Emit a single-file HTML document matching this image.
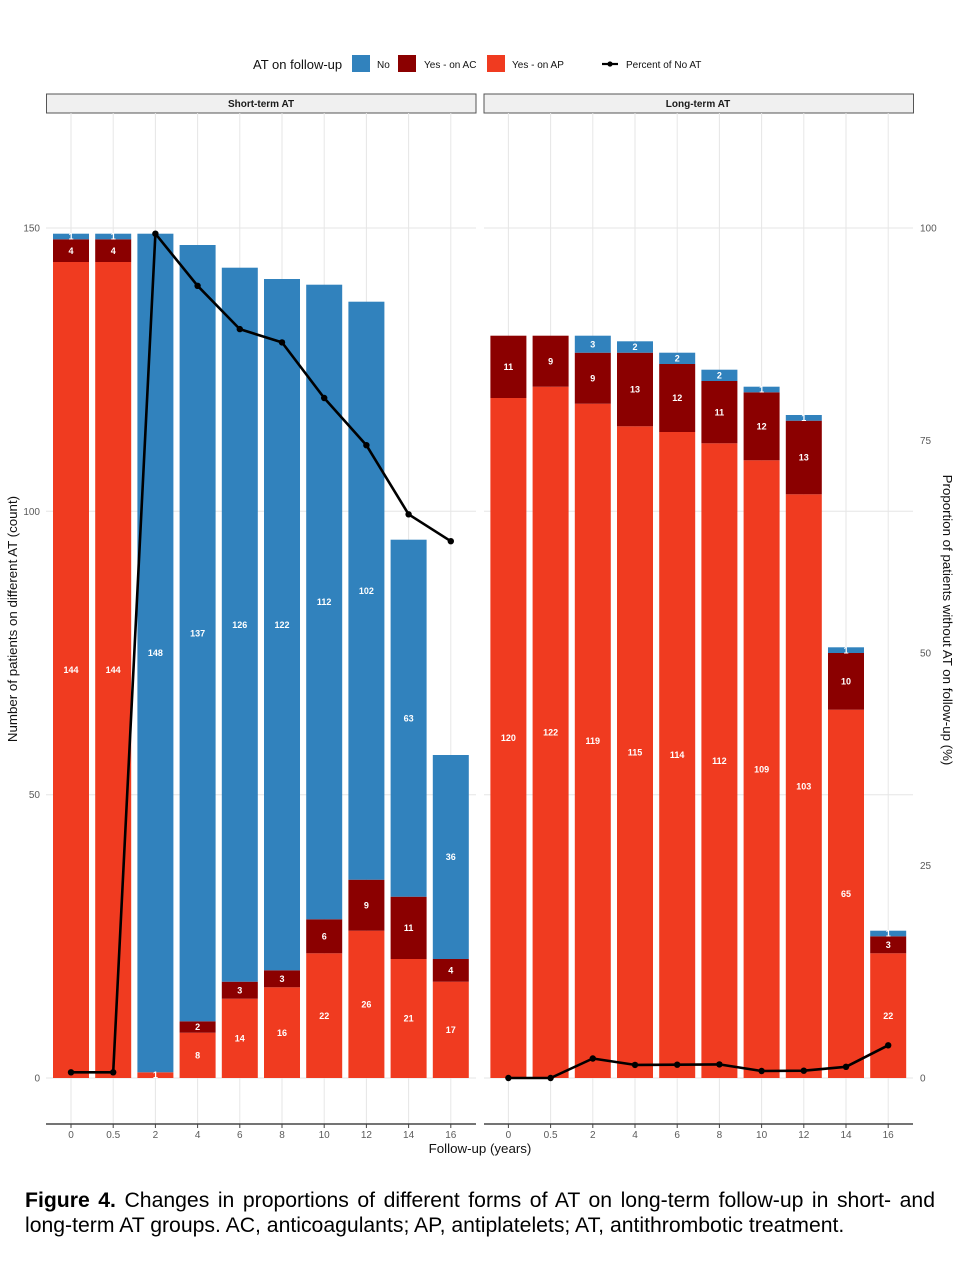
<!DOCTYPE html>
<html><head><meta charset="utf-8">
<style>
html,body{margin:0;padding:0;background:#fff;}
body{width:960px;height:1280px;position:relative;overflow:hidden;font-family:"Liberation Sans",Arial,sans-serif;}
svg{position:absolute;left:0;top:0;}
.cap{position:absolute;left:25px;width:910px;font-size:21.2px;color:#000;line-height:25px;white-space:nowrap;}
.l1{top:1188px;text-align:justify;text-align-last:justify;}
.l2{top:1213px;}
.tk{font-size:10px;fill:#5a5a5a;}
.bl{font-size:9px;font-weight:bold;fill:#fff;text-anchor:middle;}
</style></head><body>
<svg width="960" height="1280" viewBox="0 0 960 1280" xmlns="http://www.w3.org/2000/svg" font-family="Liberation Sans, Arial, sans-serif">
<!-- Legend -->
<text x="253" y="69" font-size="13" fill="#111">AT on follow-up</text>
<rect x="352" y="55" width="18" height="17" fill="#3182bd"/>
<text x="377" y="68" font-size="10" fill="#111">No</text>
<rect x="398" y="55" width="18" height="17" fill="#8b0000"/>
<text x="424" y="68" font-size="10" fill="#111">Yes - on AC</text>
<rect x="487" y="55" width="18" height="17" fill="#f03b20"/>
<text x="512" y="68" font-size="10" fill="#111">Yes - on AP</text>
<line x1="602" y1="64" x2="618" y2="64" stroke="#000" stroke-width="2.2"/>
<circle cx="610" cy="64" r="2.6" fill="#000"/>
<text x="626" y="68" font-size="10" fill="#111">Percent of No AT</text>

<!-- Strips -->
<rect x="46.5" y="94" width="429.5" height="19" fill="#f0f0f0" stroke="#555" stroke-width="1"/>
<text x="261" y="107" font-size="10" font-weight="bold" text-anchor="middle" fill="#1a1a1a">Short-term AT</text>
<rect x="484" y="94" width="429.5" height="19" fill="#f0f0f0" stroke="#555" stroke-width="1"/>
<text x="698" y="107" font-size="10" font-weight="bold" text-anchor="middle" fill="#1a1a1a">Long-term AT</text>

<!-- Gridlines -->
<g stroke="#e6e6e6" stroke-width="1">
<line x1="46" y1="228" x2="476" y2="228"/><line x1="46" y1="511.3" x2="476" y2="511.3"/><line x1="46" y1="794.7" x2="476" y2="794.7"/><line x1="46" y1="1078" x2="476" y2="1078"/>
<line x1="484" y1="228" x2="913" y2="228"/><line x1="484" y1="511.3" x2="913" y2="511.3"/><line x1="484" y1="794.7" x2="913" y2="794.7"/><line x1="484" y1="1078" x2="913" y2="1078"/>
<line x1="71" y1="113" x2="71" y2="1124"/><line x1="113.2" y1="113" x2="113.2" y2="1124"/><line x1="155.4" y1="113" x2="155.4" y2="1124"/><line x1="197.6" y1="113" x2="197.6" y2="1124"/><line x1="239.8" y1="113" x2="239.8" y2="1124"/><line x1="282" y1="113" x2="282" y2="1124"/><line x1="324.2" y1="113" x2="324.2" y2="1124"/><line x1="366.4" y1="113" x2="366.4" y2="1124"/><line x1="408.6" y1="113" x2="408.6" y2="1124"/><line x1="450.8" y1="113" x2="450.8" y2="1124"/>
<line x1="508.4" y1="113" x2="508.4" y2="1124"/><line x1="550.6" y1="113" x2="550.6" y2="1124"/><line x1="592.8" y1="113" x2="592.8" y2="1124"/><line x1="635" y1="113" x2="635" y2="1124"/><line x1="677.2" y1="113" x2="677.2" y2="1124"/><line x1="719.4" y1="113" x2="719.4" y2="1124"/><line x1="761.6" y1="113" x2="761.6" y2="1124"/><line x1="803.8" y1="113" x2="803.8" y2="1124"/><line x1="846" y1="113" x2="846" y2="1124"/><line x1="888.2" y1="113" x2="888.2" y2="1124"/>
</g>

<!-- Left panel bars -->
<g>
<rect x="53" y="262" width="36" height="816" fill="#f03b20"/>
<rect x="53" y="239.3" width="36" height="22.7" fill="#8b0000"/>
<rect x="53" y="233.7" width="36" height="5.6" fill="#3182bd"/>
<rect x="95.2" y="262" width="36" height="816" fill="#f03b20"/>
<rect x="95.2" y="239.3" width="36" height="22.7" fill="#8b0000"/>
<rect x="95.2" y="233.7" width="36" height="5.6" fill="#3182bd"/>
<rect x="137.4" y="1072.3" width="36" height="5.7" fill="#f03b20"/>
<rect x="137.4" y="233.7" width="36" height="838.6" fill="#3182bd"/>
<rect x="179.6" y="1032.7" width="36" height="45.3" fill="#f03b20"/>
<rect x="179.6" y="1021.3" width="36" height="11.4" fill="#8b0000"/>
<rect x="179.6" y="245" width="36" height="776.3" fill="#3182bd"/>
<rect x="221.8" y="998.7" width="36" height="79.3" fill="#f03b20"/>
<rect x="221.8" y="981.7" width="36" height="17" fill="#8b0000"/>
<rect x="221.8" y="267.7" width="36" height="714" fill="#3182bd"/>
<rect x="264" y="987.3" width="36" height="90.7" fill="#f03b20"/>
<rect x="264" y="970.3" width="36" height="17" fill="#8b0000"/>
<rect x="264" y="279" width="36" height="691.3" fill="#3182bd"/>
<rect x="306.2" y="953.3" width="36" height="124.7" fill="#f03b20"/>
<rect x="306.2" y="919.3" width="36" height="34" fill="#8b0000"/>
<rect x="306.2" y="284.7" width="36" height="634.6" fill="#3182bd"/>
<rect x="348.4" y="930.7" width="36" height="147.3" fill="#f03b20"/>
<rect x="348.4" y="879.7" width="36" height="51" fill="#8b0000"/>
<rect x="348.4" y="301.7" width="36" height="578" fill="#3182bd"/>
<rect x="390.6" y="959" width="36" height="119" fill="#f03b20"/>
<rect x="390.6" y="896.7" width="36" height="62.3" fill="#8b0000"/>
<rect x="390.6" y="539.7" width="36" height="357" fill="#3182bd"/>
<rect x="432.8" y="981.7" width="36" height="96.3" fill="#f03b20"/>
<rect x="432.8" y="959" width="36" height="22.7" fill="#8b0000"/>
<rect x="432.8" y="755" width="36" height="204" fill="#3182bd"/>
</g>

<!-- Right panel bars -->
<g>
<rect x="490.4" y="398" width="36" height="680" fill="#f03b20"/>
<rect x="490.4" y="335.7" width="36" height="62.3" fill="#8b0000"/>
<rect x="532.6" y="386.7" width="36" height="691.3" fill="#f03b20"/>
<rect x="532.6" y="335.7" width="36" height="51" fill="#8b0000"/>
<rect x="574.8" y="403.7" width="36" height="674.3" fill="#f03b20"/>
<rect x="574.8" y="352.7" width="36" height="51" fill="#8b0000"/>
<rect x="574.8" y="335.7" width="36" height="17" fill="#3182bd"/>
<rect x="617" y="426.3" width="36" height="651.7" fill="#f03b20"/>
<rect x="617" y="352.7" width="36" height="73.6" fill="#8b0000"/>
<rect x="617" y="341.3" width="36" height="11.4" fill="#3182bd"/>
<rect x="659.2" y="432" width="36" height="646" fill="#f03b20"/>
<rect x="659.2" y="364" width="36" height="68" fill="#8b0000"/>
<rect x="659.2" y="352.7" width="36" height="11.3" fill="#3182bd"/>
<rect x="701.4" y="443.3" width="36" height="634.7" fill="#f03b20"/>
<rect x="701.4" y="381" width="36" height="62.3" fill="#8b0000"/>
<rect x="701.4" y="369.7" width="36" height="11.3" fill="#3182bd"/>
<rect x="743.6" y="460.3" width="36" height="617.7" fill="#f03b20"/>
<rect x="743.6" y="392.3" width="36" height="68" fill="#8b0000"/>
<rect x="743.6" y="386.7" width="36" height="5.6" fill="#3182bd"/>
<rect x="785.8" y="494.3" width="36" height="583.7" fill="#f03b20"/>
<rect x="785.8" y="420.7" width="36" height="73.6" fill="#8b0000"/>
<rect x="785.8" y="415" width="36" height="5.7" fill="#3182bd"/>
<rect x="828" y="709.7" width="36" height="368.3" fill="#f03b20"/>
<rect x="828" y="653" width="36" height="56.7" fill="#8b0000"/>
<rect x="828" y="647.3" width="36" height="5.7" fill="#3182bd"/>
<rect x="870.2" y="953.3" width="36" height="124.7" fill="#f03b20"/>
<rect x="870.2" y="936.3" width="36" height="17" fill="#8b0000"/>
<rect x="870.2" y="930.7" width="36" height="5.6" fill="#3182bd"/>
</g>

<!-- Bar labels left -->
<g class="bl" font-family="Liberation Sans, Arial, sans-serif">
<text x="71" y="673">144</text><text x="71" y="254">4</text><text x="71" y="239.5">1</text>
<text x="113.2" y="673">144</text><text x="113.2" y="254">4</text><text x="113.2" y="239.5">1</text>
<text x="155.4" y="1078">1</text><text x="155.4" y="656">148</text>
<text x="197.6" y="1058.5">8</text><text x="197.6" y="1030.2">2</text><text x="197.6" y="636.4">137</text>
<text x="239.8" y="1041.5">14</text><text x="239.8" y="993.4">3</text><text x="239.8" y="628">126</text>
<text x="282" y="1036">16</text><text x="282" y="982">3</text><text x="282" y="628">122</text>
<text x="324.2" y="1019">22</text><text x="324.2" y="939.5">6</text><text x="324.2" y="605">112</text>
<text x="366.4" y="1007.5">26</text><text x="366.4" y="908.4">9</text><text x="366.4" y="594">102</text>
<text x="408.6" y="1021.7">21</text><text x="408.6" y="931">11</text><text x="408.6" y="721.4">63</text>
<text x="450.8" y="1033">17</text><text x="450.8" y="973.5">4</text><text x="450.8" y="860.2">36</text>
</g>
<!-- Bar labels right -->
<g class="bl" font-family="Liberation Sans, Arial, sans-serif">
<text x="508.4" y="741.2">120</text><text x="508.4" y="370">11</text>
<text x="550.6" y="735.5">122</text><text x="550.6" y="364.4">9</text>
<text x="592.8" y="744">119</text><text x="592.8" y="381.4">9</text><text x="592.8" y="347.4">3</text>
<text x="635" y="755.4">115</text><text x="635" y="392.7">13</text><text x="635" y="350.2">2</text>
<text x="677.2" y="758.2">114</text><text x="677.2" y="401.2">12</text><text x="677.2" y="361.5">2</text>
<text x="719.4" y="763.9">112</text><text x="719.4" y="415.4">11</text><text x="719.4" y="378.5">2</text>
<text x="761.6" y="772.4">109</text><text x="761.6" y="429.5">12</text><text x="761.6" y="392.7">1</text>
<text x="803.8" y="789.4">103</text><text x="803.8" y="460.7">13</text><text x="803.8" y="421">1</text>
<text x="846" y="897">65</text><text x="846" y="684.5">10</text><text x="846" y="653.4">1</text>
<text x="888.2" y="1018.9">22</text><text x="888.2" y="948">3</text><text x="888.2" y="936.7">1</text>
</g>

<!-- Lines -->
<polyline points="71,1072.3 113.2,1072.3 155.4,233.7 197.6,285.8 239.8,329.1 282,342.4 324.2,398 366.4,445.2 408.6,514.3 450.8,541.2" fill="none" stroke="#000" stroke-width="2.6" stroke-linejoin="round"/>
<g fill="#000">
<circle cx="71" cy="1072.3" r="3.2"/><circle cx="113.2" cy="1072.3" r="3.2"/><circle cx="155.4" cy="233.7" r="3.2"/><circle cx="197.6" cy="285.8" r="3.2"/><circle cx="239.8" cy="329.1" r="3.2"/><circle cx="282" cy="342.4" r="3.2"/><circle cx="324.2" cy="398" r="3.2"/><circle cx="366.4" cy="445.2" r="3.2"/><circle cx="408.6" cy="514.3" r="3.2"/><circle cx="450.8" cy="541.2" r="3.2"/>
</g>
<polyline points="508.4,1078 550.6,1078 592.8,1058.5 635,1064.9 677.2,1064.7 719.4,1064.4 761.6,1071 803.8,1070.7 846,1066.8 888.2,1045.3" fill="none" stroke="#000" stroke-width="2.6" stroke-linejoin="round"/>
<g fill="#000">
<circle cx="508.4" cy="1078" r="3.2"/><circle cx="550.6" cy="1078" r="3.2"/><circle cx="592.8" cy="1058.5" r="3.2"/><circle cx="635" cy="1064.9" r="3.2"/><circle cx="677.2" cy="1064.7" r="3.2"/><circle cx="719.4" cy="1064.4" r="3.2"/><circle cx="761.6" cy="1071" r="3.2"/><circle cx="803.8" cy="1070.7" r="3.2"/><circle cx="846" cy="1066.8" r="3.2"/><circle cx="888.2" cy="1045.3" r="3.2"/>
</g>

<!-- X axes -->
<line x1="46" y1="1124" x2="476" y2="1124" stroke="#222" stroke-width="1.3"/>
<line x1="484" y1="1124" x2="913" y2="1124" stroke="#222" stroke-width="1.3"/>
<g stroke="#444" stroke-width="1">
<line x1="71" y1="1124" x2="71" y2="1128"/><line x1="113.2" y1="1124" x2="113.2" y2="1128"/><line x1="155.4" y1="1124" x2="155.4" y2="1128"/><line x1="197.6" y1="1124" x2="197.6" y2="1128"/><line x1="239.8" y1="1124" x2="239.8" y2="1128"/><line x1="282" y1="1124" x2="282" y2="1128"/><line x1="324.2" y1="1124" x2="324.2" y2="1128"/><line x1="366.4" y1="1124" x2="366.4" y2="1128"/><line x1="408.6" y1="1124" x2="408.6" y2="1128"/><line x1="450.8" y1="1124" x2="450.8" y2="1128"/>
<line x1="508.4" y1="1124" x2="508.4" y2="1128"/><line x1="550.6" y1="1124" x2="550.6" y2="1128"/><line x1="592.8" y1="1124" x2="592.8" y2="1128"/><line x1="635" y1="1124" x2="635" y2="1128"/><line x1="677.2" y1="1124" x2="677.2" y2="1128"/><line x1="719.4" y1="1124" x2="719.4" y2="1128"/><line x1="761.6" y1="1124" x2="761.6" y2="1128"/><line x1="803.8" y1="1124" x2="803.8" y2="1128"/><line x1="846" y1="1124" x2="846" y2="1128"/><line x1="888.2" y1="1124" x2="888.2" y2="1128"/>
</g>
<g class="tk" text-anchor="middle" font-family="Liberation Sans, Arial, sans-serif">
<text x="71" y="1138">0</text><text x="113.2" y="1138">0.5</text><text x="155.4" y="1138">2</text><text x="197.6" y="1138">4</text><text x="239.8" y="1138">6</text><text x="282" y="1138">8</text><text x="324.2" y="1138">10</text><text x="366.4" y="1138">12</text><text x="408.6" y="1138">14</text><text x="450.8" y="1138">16</text>
<text x="508.4" y="1138">0</text><text x="550.6" y="1138">0.5</text><text x="592.8" y="1138">2</text><text x="635" y="1138">4</text><text x="677.2" y="1138">6</text><text x="719.4" y="1138">8</text><text x="761.6" y="1138">10</text><text x="803.8" y="1138">12</text><text x="846" y="1138">14</text><text x="888.2" y="1138">16</text>
</g>
<text x="480" y="1153" font-size="13.3" text-anchor="middle" fill="#111">Follow-up (years)</text>

<!-- Y axes -->
<g class="tk" text-anchor="end" font-family="Liberation Sans, Arial, sans-serif">
<text x="40" y="231.5">150</text><text x="40" y="514.8">100</text><text x="40" y="798.2">50</text><text x="40" y="1081.5">0</text>
</g>
<g class="tk" text-anchor="start" font-family="Liberation Sans, Arial, sans-serif">
<text x="920" y="231.5">100</text><text x="920" y="444">75</text><text x="920" y="656.5">50</text><text x="920" y="869">25</text><text x="920" y="1081.5">0</text>
</g>
<text transform="translate(17,619) rotate(-90)" font-size="13.3" text-anchor="middle" fill="#111">Number of patients on different AT (count)</text>
<text transform="translate(943,620) rotate(90)" font-size="13.3" text-anchor="middle" fill="#111">Proportion of patients without AT on follow-up (%)</text>
</svg>
<div class="cap l1"><b>Figure 4.</b> Changes in proportions of different forms of AT on long-term follow-up in short- and</div>
<div class="cap l2">long-term AT groups. AC, anticoagulants; AP, antiplatelets; AT, antithrombotic treatment.</div>
</body></html>
